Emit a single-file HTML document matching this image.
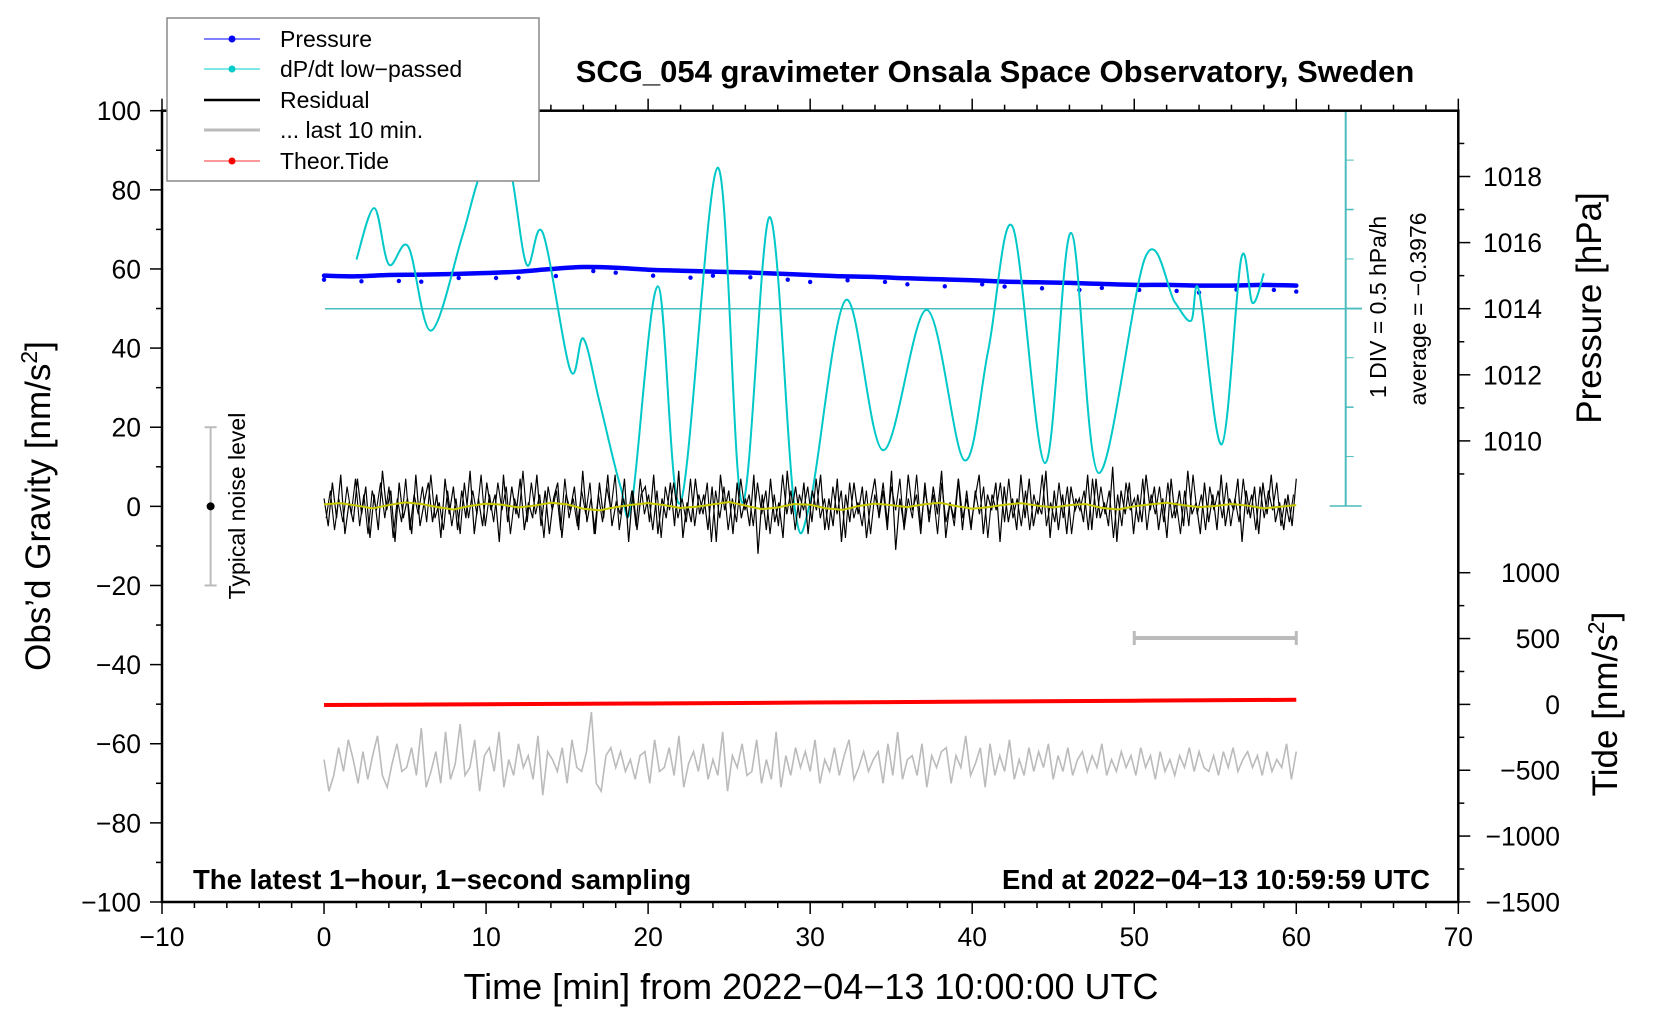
<!DOCTYPE html>
<html><head><meta charset="utf-8">
<style>
html,body{margin:0;padding:0;background:#fff;}
svg{display:block;font-family:"Liberation Sans",Arial,sans-serif;}
</style></head>
<body>
<svg id="chart" width="1660" height="1020" viewBox="0 0 1660 1020" xmlns="http://www.w3.org/2000/svg">
<defs><clipPath id="plotclip"><rect x="162" y="110.7" width="1296.3" height="791.3"/></clipPath></defs>
<rect x="0" y="0" width="1660" height="1020" fill="#fff"/>
<g id="marks" clip-path="url(#plotclip)"></g>
<g id="axes"></g>
<text x="995" y="82" text-anchor="middle" font-size="31" font-weight="bold">SCG_054 gravimeter Onsala Space Observatory, Sweden</text>
<text x="193" y="889" font-size="27.5" font-weight="bold">The latest 1−hour, 1−second sampling</text>
<text x="1430" y="889" text-anchor="end" font-size="27.5" font-weight="bold">End at 2022−04−13 10:59:59 UTC</text>
<text x="811" y="999" text-anchor="middle" font-size="36">Time [min] from 2022−04−13 10:00:00 UTC</text>
<text transform="translate(50,506) rotate(-90)" text-anchor="middle" font-size="35">Obs’d Gravity [nm/s<tspan font-size="23" dy="-13">2</tspan><tspan dy="13">]</tspan></text>
<text transform="translate(1601,308) rotate(-90)" text-anchor="middle" font-size="35">Pressure [hPa]</text>
<text transform="translate(1617,704) rotate(-90)" text-anchor="middle" font-size="35">Tide [nm/s<tspan font-size="23" dy="-13">2</tspan><tspan dy="13">]</tspan></text>
<text transform="translate(1386,307) rotate(-90)" text-anchor="middle" font-size="23">1 DIV = 0.5 hPa/h</text>
<text transform="translate(1426,309) rotate(-90)" text-anchor="middle" font-size="23">average = −0.3976</text>
<text transform="translate(245,506) rotate(-90)" text-anchor="middle" font-size="23">Typical noise level</text>
<g id="legend">
<rect x="167" y="18" width="372" height="163" fill="#fff" stroke="#888" stroke-width="1.5"/>
<g><line x1="204" y1="39" x2="260" y2="39" stroke="#00f" stroke-width="1"/><circle cx="232" cy="39" r="3.5" fill="#00f"/><text x="280" y="47" font-size="23">Pressure</text></g>
<g><line x1="204" y1="69" x2="260" y2="69" stroke="#0cc" stroke-width="1"/><circle cx="232" cy="69" r="3.5" fill="#0cc"/><text x="280" y="77" font-size="23">dP/dt low−passed</text></g>
<g><line x1="204" y1="100" x2="260" y2="100" stroke="#000" stroke-width="2.5"/><text x="280" y="108" font-size="23">Residual</text></g>
<g><line x1="204" y1="130" x2="260" y2="130" stroke="#bbb" stroke-width="3"/><text x="280" y="138" font-size="23">... last 10 min.</text></g>
<g><line x1="204" y1="161" x2="260" y2="161" stroke="#f33" stroke-width="1"/><circle cx="232" cy="161" r="3.5" fill="#f00"/><text x="280" y="169" font-size="23">Theor.Tide</text></g>
</g>
</svg>
<script>
// ---- data ----
const xTicks=[-10,0,10,20,30,40,50,60,70];
const gTicks=[100,80,60,40,20,0,-20,-40,-60,-80,-100];
const pTicks=[1010,1012,1014,1016,1018];
const tideTicks=[1000,500,0,-500,-1000,-1500];
const pressureTimes=[0,2,4,6,8,10,12,14,16,18,20,22,24,26,28,30,32,34,36,38,40,42,44,46,48,50,52,54,56,58,60];
const pressureVals=[1015.0,1014.98,1015.02,1015.03,1015.05,1015.08,1015.12,1015.2,1015.26,1015.24,1015.18,1015.15,1015.12,1015.1,1015.06,1015.02,1014.98,1014.96,1014.92,1014.89,1014.86,1014.82,1014.8,1014.78,1014.75,1014.72,1014.72,1014.7,1014.7,1014.72,1014.7];
const dpTimes=[2.0,3.1,4.0,5.2,6.6,8.5,9.5,10.5,11.5,12.5,13.5,15.2,16.0,17.0,18.3,19.0,20.6,22.0,24.3,25.8,27.5,29.0,30.0,32.2,34.5,37.2,39.5,41.0,42.5,44.5,46.1,47.8,50.7,52.5,53.5,54.0,55.4,56.6,57.3,58.0];
const dpVals=[0.10,0.62,0.05,0.23,-0.62,0.32,0.90,1.25,1.01,0.05,0.37,-1.02,-0.70,-1.34,-2.20,-2.36,-0.17,-2.36,1.03,-2.36,0.53,-2.36,-2.36,-0.31,-1.83,-0.41,-1.93,-0.81,0.43,-1.96,0.37,-2.06,0.13,-0.33,-0.52,-0.22,-1.77,0.11,-0.34,-0.04];
const dpAverage=-0.3976;
const residualVals=[2,-5,6,-3,8,-7,1,-4,7,-2,5,-8,3,-6,9,-1,4,-9,6,-3,2,-7,8,-5,1,6,-4,3,-8,7,-2,5,-6,4,-3,9,-7,2,-5,6,-1,3,-9,8,-4,5,-2,7,-6,1,-3,8,-5,4,-7,2,6,-8,3,-1,5,-6,9,-4,2,-7,6,-3,8,-5,1,-2,7,-9,4,-6,3,5,-4,8,-7,2,-3,6,-5,9,-8,1,-4,7,-2,3,-6,5,-9,8,-1,4,-7,6,-3,2,-5,8,-12,3,-6,7,-4,1,-8,9,-2,5,-3,6,-7,4,-1,8,-6,2,-5,7,-9,3,-4,6,-2,5,-8,1,7,-3,4,-6,9,-11,2,-5,8,-1,3,-7,6,-4,5,-2,9,-8,1,-3,7,-6,4,-5,2,8,-7,3,-1,6,-9,5,-4,2,-6,8,-3,7,-5,1,-2,9,-8,4,-6,3,-7,5,-1,2,-4,8,-6,7,-3,1,-5,10,-9,4,-2,6,-7,3,-4,8,-1,5,-6,2,-8,7,-3,4,-5,9,-2,1,-7,6,-4,3,-6,8,-5,2,-1,7,-9,4,-3,5,-7,6,-2,8,-4,1,-6,3,-5,7];
const residualVals2=[-3,4,-6,2,-4,5,-2,7,-5,3,-7,4,-1,6,-3,5,-8,2,-4,7,-6,3,-2,5,-4,8,-3,1,-6,4,-5,2,-7,6,-3,4,-2,8,-5,3,-4,6,-1,5,-7,2,-3,9,-4,6,-2,3,-8,5,-1,4,-6,7,-3,2,-5,4,-2,6,-7,3,-4,5,-1,8,-6,2,-3,4,-5,7,-2,3,-6,4,-8,5,-1,6,-3,2,-4,7,-5,3,-2,6,-9,4,-3,5,-6,2,-4,7,-1,3,-5,6,-2,4,-7,3,-5,8,-2,4,-6,3,-1,5,-4,7,-3,2,-6,5,-2,4,-8,6,-3,1,-5,4,-7,3,-2,6,-4,5,-1,7,-6,2,-3,8,-5,4,-2,3,-7,6,-4,1,-5,7,-3,2,-6,4,-2,5,-8,3,-1,6,-4,7,-3,2,-5,4,-6,3,-2,8,-5,1,-4,6,-3,5,-7,2,-1,4,-6,7,-3,5,-2,4,-8,3,-5,6,-1,2,-4,7,-6,3,-2,5,-4,6,-3,1,-7,4,-5,8,-2,3,-6,5,-1,4,-3,6,-5,2,-4,7,-2,3,-6,5,-3,4,-1,6,-5,2,-4,3];
const smoothVals=[0.5,0.8,0.2,-0.5,0.3,1.0,0.6,-0.2,-0.8,0.1,0.7,0.4,-0.3,0.2,0.9,0.5,-0.6,-1.0,-0.2,0.4,0.8,0.3,-0.4,-0.1,0.5,1.1,0.2,-0.7,-0.3,0.6,0.4,-0.5,-0.9,0.1,0.7,0.3,-0.2,0.5,0.9,0.1,-0.6,-0.2,0.4,0.8,0.2,-0.3,0.3,0.6,-0.4,-0.8,0.0,0.5,0.9,0.3,-0.2,0.1,0.6,0.2,-0.5,-0.1,0.3];
const last10Offset=-65;
const last10Vals=[1,-7,-3,4,-2,6,1,-5,3,-4,2,7,-3,-6,0,5,-2,-1,4,-3,9,-6,-2,3,-5,8,-4,0,10,-3,-1,6,-7,2,4,-2,8,-6,1,-3,5,-1,2,-4,7,-8,3,1,-2,4,-5,6,-1,-2,3,13,-5,-7,2,4,-1,3,-2,1,-4,2,3,-5,6,-2,-1,4,-3,7,-6,0,3,-2,5,-4,1,-3,8,-7,2,-1,5,-3,-2,6,-5,1,-4,8,-6,2,-3,4,-1,3,-2,6,-5,1,-2,4,-3,2,6,-4,-1,3,-2,1,3,-5,5,-3,8,-4,1,2,-3,5,-6,2,-1,3,4,-5,2,-1,7,-3,0,4,-6,5,-3,2,-2,6,-4,1,-3,4,-2,3,-1,5,-4,2,-2,4,-3,1,3,-2,2,-1,5,-3,1,-2,3,-1,2,-3,4,-1,2,-4,3,-2,1,-3,2,-1,4,-2,3,-1,-2,2,-3,3,-1,4,-2,1,3,-1,2,-3,3,-2,1,-1,5,-4,3];
const tideTimes=[0,10,20,30,40,50,60];
const tideVals=[-5,1,7,14,21,28,35];
const noiseLevel=[20,-20];

// ---- scales ----
const X=t=>162+(t+10)*16.204;
const G=v=>506.35-v*3.9565;
const P=p=>308.7-(p-1014)*33.05;
const TD=v=>704.4-v*0.13168;
const DP=v=>308.7-(v-dpAverage)/0.5*49.4;
const NS="http://www.w3.org/2000/svg";
function mk(tag,attrs,parent){const e=document.createElementNS(NS,tag);for(const k in attrs)e.setAttribute(k,attrs[k]);parent.appendChild(e);return e;}
const marks=document.getElementById('marks');
const axes=document.getElementById('axes');

let e=mk('line',{x1:325,y1:308.7,x2:1362,y2:308.7,stroke:'#4bbcbc','stroke-width':1.5},marks);


e=mk('line',{x1:1345.7,y1:110.7,x2:1345.7,y2:506,stroke:'#4bbcbc','stroke-width':2},axes);


for(let i=0;i<=8;i++){const y=110.7+i*49.41;const w=(i===0||i===8||i===4)?16:8;
e=mk('line',{x1:1345.7-(i===0||i===8?16:0),y1:y,x2:1345.7+w,y2:y,stroke:'#4bbcbc','stroke-width':i%2?1:1.5},axes);

}

function smoothPath(pts){let d=`M${pts[0][0]},${pts[0][1]}`;for(let i=0;i<pts.length-1;i++){const p0=pts[i-1]||pts[i],p1=pts[i],p2=pts[i+1],p3=pts[i+2]||p2;
d+=` C${p1[0]+(p2[0]-p0[0])/6},${p1[1]+(p2[1]-p0[1])/6} ${p2[0]-(p3[0]-p1[0])/6},${p2[1]-(p3[1]-p1[1])/6} ${p2[0]},${p2[1]}`;}return d;}

// pressure
const pPts=pressureTimes.map((t,i)=>[X(t),P(pressureVals[i])]);
e=mk('path',{d:smoothPath(pPts),fill:'none',stroke:'#0000ff','stroke-width':4.5,'stroke-linecap':'round'},marks);


pressureTimes.forEach((t,i)=>{e=mk('circle',{cx:X(t)+(i%3)*5,cy:P(pressureVals[i])+4+(i%4),r:2.2,fill:'#00f'},marks);

});

// dP/dt
e=mk('path',{d:smoothPath(dpTimes.map((t,i)=>[X(t),DP(dpVals[i])])),fill:'none',stroke:'#00c8c8','stroke-width':2},marks);



// residual
const rN=residualVals.length;
e=mk('polyline',{points:residualVals.map((v,i)=>`${X(i*60/(rN-1))},${G(v)}`).join(' '),fill:'none',stroke:'#000','stroke-width':1.2},marks);


const rN2=residualVals2.length;
e=mk('polyline',{points:residualVals2.map((v,i)=>`${X(0.13+i*59.7/(rN2-1))},${G(v)}`).join(' '),fill:'none',stroke:'#000','stroke-width':1.1},marks);


const sN=smoothVals.length;
e=mk('polyline',{points:smoothVals.map((v,i)=>`${X(i*60/(sN-1))},${G(v)}`).join(' '),fill:'none',stroke:'#c8c800','stroke-width':2},marks);



// last 10 min
const lN=last10Vals.length;
e=mk('polyline',{points:last10Vals.map((v,i)=>`${X(i*60/(lN-1))},${G(last10Offset+v)}`).join(' '),fill:'none',stroke:'#bbb','stroke-width':1.6},marks);



// tide
e=mk('polyline',{points:tideTimes.map((t,i)=>`${X(t)},${TD(tideVals[i])}`).join(' '),fill:'none',stroke:'#f00','stroke-width':4},marks);



const sb=mk('g',{},marks);


mk('line',{x1:X(50),y1:638,x2:X(60),y2:638,stroke:'#bbb','stroke-width':4},sb);
mk('line',{x1:X(50),y1:631,x2:X(50),y2:645,stroke:'#bbb','stroke-width':3},sb);
mk('line',{x1:X(60),y1:631,x2:X(60),y2:645,stroke:'#bbb','stroke-width':3},sb);

const nb=mk('g',{},marks);


mk('line',{x1:X(-7),y1:G(noiseLevel[0]),x2:X(-7),y2:G(noiseLevel[1]),stroke:'#bbb','stroke-width':2},nb);
mk('line',{x1:X(-7)-6,y1:G(noiseLevel[0]),x2:X(-7)+6,y2:G(noiseLevel[0]),stroke:'#bbb','stroke-width':2},nb);
mk('line',{x1:X(-7)-6,y1:G(noiseLevel[1]),x2:X(-7)+6,y2:G(noiseLevel[1]),stroke:'#bbb','stroke-width':2},nb);
mk('circle',{cx:X(-7),cy:G(0),r:4,fill:'#000'},nb);

e=mk('rect',{x:162,y:110.7,width:1296.3,height:791.3,fill:'none',stroke:'#000','stroke-width':2.5},axes);


for(let t=-10;t<=70;t+=2){const maj=t%10===0;
mk('line',{x1:X(t),y1:902,x2:X(t),y2:902+(maj?12:6),stroke:'#000','stroke-width':1.5},axes);
mk('line',{x1:X(t),y1:110.7,x2:X(t),y2:110.7-(maj?12:6),stroke:'#000','stroke-width':1.5},axes);}
xTicks.forEach(t=>{e=mk('text',{x:X(t),y:946,'text-anchor':'middle','font-size':26.5},axes);e.textContent=t<0?'−'+Math.abs(t):t;

});
for(let v=-100;v<=100;v+=10){const maj=v%20===0;mk('line',{x1:162,y1:G(v),x2:162-(maj?12:6),y2:G(v),stroke:'#000','stroke-width':1.5},axes);}
gTicks.forEach(v=>{e=mk('text',{x:141,y:G(v)+9.5,'text-anchor':'end','font-size':26.5},axes);e.textContent=v<0?'−'+Math.abs(v):v;

});
for(let p=1009;p<=1019;p++){const y=P(p);if(y<110||y>506)continue;mk('line',{x1:1458.3,y1:y,x2:1458.3+(p%2===0?12:6),y2:y,stroke:'#000','stroke-width':1.5},axes);}
pTicks.forEach(p=>{e=mk('text',{x:1483,y:P(p)+9.5,'font-size':26.5},axes);e.textContent=p;

});
for(let v=-1500;v<=1000;v+=250){const maj=v%500===0;mk('line',{x1:1458.3,y1:TD(v),x2:1458.3+(maj?12:6),y2:TD(v),stroke:'#000','stroke-width':1.5},axes);}
tideTicks.forEach(v=>{e=mk('text',{x:1560,y:TD(v)+9.5,'text-anchor':'end','font-size':26.5},axes);e.textContent=v<0?'−'+Math.abs(v):v;

});
</script>
</body></html>
